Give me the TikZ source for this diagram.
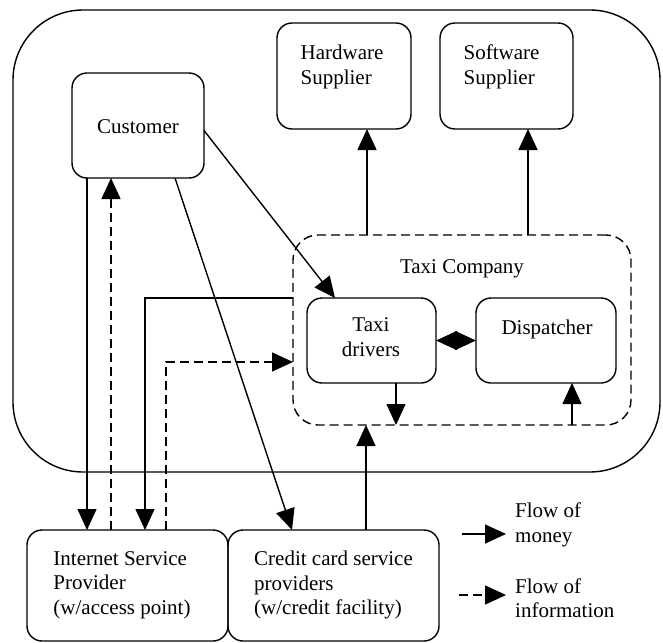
\documentclass[tikz,border=0pt]{standalone}
\usepackage{fontspec}
\setmainfont{Liberation Serif}
\usetikzlibrary{arrows.meta,calc}
\begin{document}
\begin{tikzpicture}[x=1pt,y=-1pt,
  every node/.style={font=\fontsize{21}{24.5}\selectfont},
  box/.style={draw,line width=1.4pt,rounded corners=15pt,inner sep=0pt,outer sep=0pt},
  txt/.style={inner sep=0pt,align=left},
  money/.style={line width=1.4pt,-{Triangle[length=21pt,width=19pt]}},
  info/.style={line width=1.4pt,dash pattern=on 9pt off 5pt,-{Triangle[length=21pt,width=19pt]}}]
\useasboundingbox (0,0) rectangle (663,642);
% outer region
\node[box,rounded corners=70pt,minimum width=647pt,minimum height=462pt] (world) at (336.5,241) {};
% taxi company
\node[box,dash pattern=on 9pt off 5pt,rounded corners=25pt,minimum width=338pt,minimum height=190pt] (tc) at (462,330) {};
\node[txt] (tctxt) at (462,269) {Taxi Company};
% boxes
\node[box,minimum width=132pt,minimum height=105pt] (cust) at (138,125.5) {};
\node[txt] (custtxt) at (138,127) {Customer};
\node[box,minimum width=134pt,minimum height=106pt] (hw) at (344,76) {};
\node[txt] (hwtxt) at (342,67) {Hardware\\Supplier};
\node[box,minimum width=133pt,minimum height=106pt] (sw) at (506.5,76) {};
\node[txt] (swtxt) at (501.5,67) {Software\\Supplier};
\node[box,minimum width=129pt,minimum height=85pt] (td) at (371.5,340.5) {};
\node[txt,align=center] (tdtxt) at (371,337) {Taxi\\drivers};
\node[box,minimum width=140pt,minimum height=85pt] (disp) at (546,340.5) {};
\node[txt] (disptxt) at (547,329) {Dispatcher};
\node[box,minimum width=201pt,minimum height=111pt] (isp) at (127.5,585.5) {};
\node[txt] (isptxt) at (122,585) {Internet Service\\Provider\\(w/access point)};
\node[box,minimum width=211pt,minimum height=111pt] (cc) at (333.5,585.5) {};
\node[txt] (cctxt) at (333.5,585) {Credit card service\\providers\\(w/credit facility)};
% connectors
\draw[money] ([yshift=-5pt]cust.east) -- ([xshift=28pt]td.north west);
\draw[money] ([xshift=-29pt]cust.south east) -- ([xshift=64pt]cc.north west);
\draw[money] ([xshift=15pt]cust.south west) -- ([xshift=15pt]cust.south west |- isp.north);
\draw[info] ([xshift=39pt]cust.south west |- isp.north) -- ([xshift=39pt]cust.south west);
\draw[money] ([yshift=32pt]tc.west) -| ([xshift=118pt]isp.north west);
\draw[info] ([xshift=139pt]isp.north west) |- ([yshift=-32pt]tc.west);
\draw[money] ([xshift=23pt]hw.south |- tc.north) -- ([xshift=23pt]hw.south);
\draw[money] ([xshift=21.5pt]sw.south |- tc.north) -- ([xshift=21.5pt]sw.south);
\draw[money] ([xshift=24.5pt]td.south) -- ([xshift=24.5pt]td.south |- tc.south);
\draw[money] ([xshift=26pt]disp.south |- tc.south) -- ([xshift=26pt]disp.south);
\draw[money] ([xshift=32.5pt]cc.north) -- ([xshift=32.5pt]cc.north |- tc.south);
\coordinate (mid) at ($(td.east)!0.5!(disp.west)$);
\draw[money] (mid) -- (td.east);
\draw[money] (mid) -- (disp.west);
% legend
\coordinate (l1a) at (462,534);
\coordinate (l1b) at (506,534);
\coordinate (l2a) at (459,595);
\coordinate (l2b) at (506,595);
\draw[money] (l1a) -- (l1b);
\draw[info] (l2a) -- (l2b);
\node[txt,anchor=west] (leg1) at (515,525) {Flow of\\money};
\node[txt,anchor=west] (leg2) at (515,598) {Flow of\\information};
\end{tikzpicture}
\end{document}
